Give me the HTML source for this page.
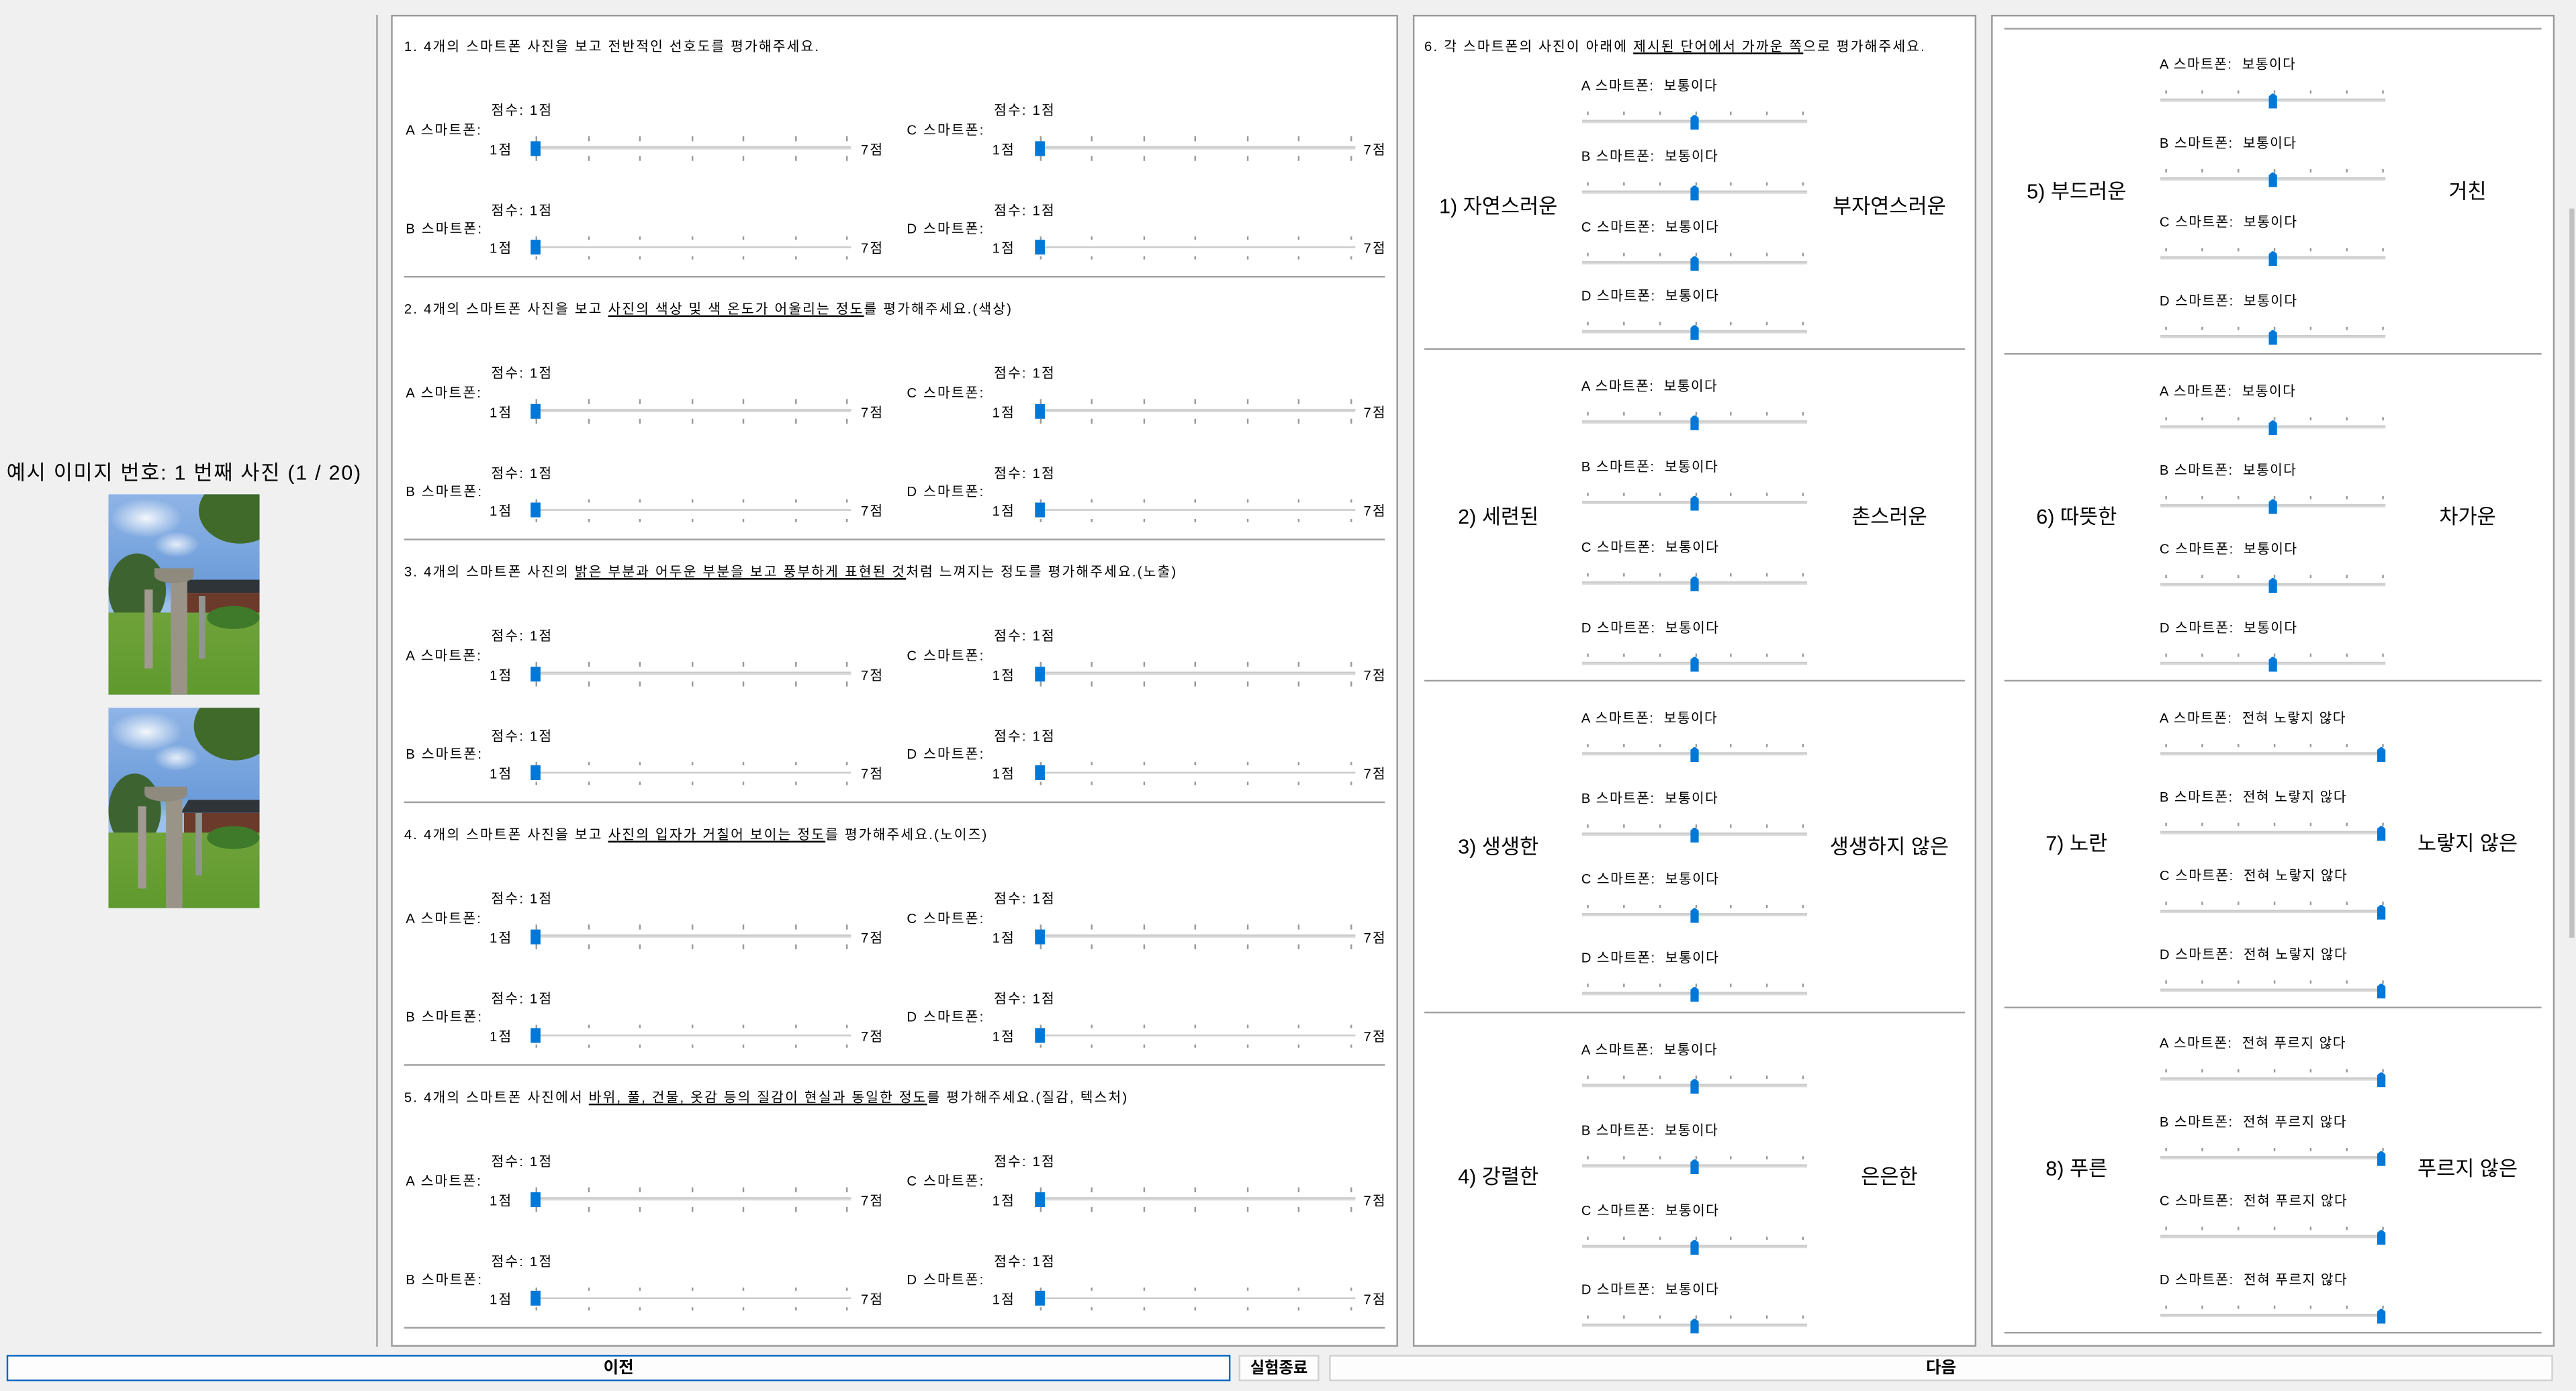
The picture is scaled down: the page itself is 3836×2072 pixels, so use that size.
<!DOCTYPE html>
<html><head><meta charset="utf-8">
<style>
html,body{margin:0;padding:0;width:3836px;height:2072px;overflow:hidden;background:#f0f0f0;}
#root{position:absolute;left:0;top:0;width:1568px;height:847px;transform:scale(2.44643,2.44628);transform-origin:0 0;font-family:"Liberation Sans","Noto Sans CJK KR",sans-serif;color:#000;}
.a{position:absolute;white-space:nowrap;}
.panel{position:absolute;background:#fff;border:0.5px solid #9a9a9a;box-sizing:border-box;}
.sm{font-size:8.3px;line-height:1;letter-spacing:0.9px;}
.hr{position:absolute;height:0.6px;background:#a0a0a0;}
.tick{position:absolute;width:0.6px;height:2.5px;background:#999;}
.track{position:absolute;height:1.6px;background:#dadada;border-top:0.3px solid #ccc;box-sizing:border-box;}
.thumb{position:absolute;background:#0078d7;}
.ptr{position:absolute;width:5.6px;height:9.5px;background:#0078d7;clip-path:polygon(50% 0,100% 25%,100% 100%,0 100%,0 25%);}
.big{font-size:12.5px;line-height:1;position:absolute;white-space:nowrap;transform:translate(-50%,-50%);}
.btn{position:absolute;top:825px;height:16px;background:#fdfdfd;border:0.6px solid #d0d0d0;box-sizing:border-box;font-size:10px;font-weight:bold;text-align:center;line-height:15px;}
u{text-decoration-thickness:0.5px;text-underline-offset:1px;}
.photo{position:absolute;left:66px;width:92px;height:122px;overflow:hidden;
background:
radial-gradient(ellipse 22px 12px at 25% 12%,rgba(255,255,255,.9),rgba(255,255,255,0)),
radial-gradient(ellipse 14px 8px at 45% 25%,rgba(255,255,255,.8),rgba(255,255,255,0)),
linear-gradient(#8fb4e6,#6c9cd9 45%,#9cc0e8 55%);}
</style></head>
<body>
<div id="root">
  <div class="a" style="left:4px;top:277px;font-size:12.5px;letter-spacing:0.7px;">예시 이미지 번호: 1 번째 사진 (1 / 20)</div>
  <div class="photo" style="top:301px">
    <div class="a" style="left:55px;top:-10px;width:50px;height:40px;border-radius:50%;background:#3f6a2a;"></div>
    <div class="a" style="left:0;top:36px;width:35px;height:45px;border-radius:50%;background:#3d6430;"></div>
    <div class="a" style="left:44px;top:52px;width:48px;height:8px;background:#2f3438;clip-path:polygon(10% 0,100% 0,100% 100%,0 100%);"></div>
    <div class="a" style="left:46px;top:60px;width:46px;height:16px;background:#6b3a2a;"></div>
    <div class="a" style="left:0;top:72px;width:92px;height:50px;background:linear-gradient(#6fa23a,#5f9a2e);"></div>
    <div class="a" style="left:60px;top:68px;width:32px;height:14px;border-radius:50%;background:#3e7a2a;"></div>
    <div class="a" style="left:38px;top:52px;width:10px;height:70px;background:#9a9488;"></div>
    <div class="a" style="left:28px;top:45px;width:24px;height:9px;border-radius:0 0 50% 50%;background:#8e8a7e;"></div>
    <div class="a" style="left:22px;top:58px;width:5px;height:48px;background:#a09a90;"></div>
    <div class="a" style="left:55px;top:62px;width:4px;height:38px;background:#8f9590;"></div>
  </div>
  <div class="photo" style="top:431px">
    <div class="a" style="left:52px;top:-10px;width:50px;height:42px;border-radius:50%;background:#3f6a2a;"></div>
    <div class="a" style="left:0;top:40px;width:32px;height:45px;border-radius:50%;background:#3d6430;"></div>
    <div class="a" style="left:44px;top:56px;width:48px;height:8px;background:#2f3438;clip-path:polygon(10% 0,100% 0,100% 100%,0 100%);"></div>
    <div class="a" style="left:46px;top:64px;width:46px;height:14px;background:#6b3a2a;"></div>
    <div class="a" style="left:0;top:76px;width:92px;height:46px;background:linear-gradient(#6fa23a,#5f9a2e);"></div>
    <div class="a" style="left:60px;top:72px;width:32px;height:14px;border-radius:50%;background:#3e7a2a;"></div>
    <div class="a" style="left:35px;top:56px;width:10px;height:66px;background:#9a9488;"></div>
    <div class="a" style="left:22px;top:48px;width:26px;height:9px;border-radius:0 0 50% 50%;background:#8e8a7e;"></div>
    <div class="a" style="left:18px;top:60px;width:5px;height:50px;background:#a09a90;"></div>
    <div class="a" style="left:53px;top:64px;width:4px;height:38px;background:#8f9590;"></div>
  </div>
  <div class="a" style="left:229px;top:9px;width:0.6px;height:811px;background:#a0a0a0;"></div>

  <div class="panel" id="p1" style="left:238px;top:9px;width:613px;height:811px;"></div>
  <div class="panel" id="p2" style="left:860px;top:9px;width:343px;height:811px;"></div>
  <div class="panel" id="p3" style="left:1212px;top:9px;width:343px;height:811px;"></div>
  <div class="a" style="left:1563.5px;top:127px;width:3.5px;height:444px;background:#c0c0c0;"></div>

  <div class="btn" style="left:4px;width:745px;border:0.6px solid #0067c0;">이전</div>
  <div class="btn" style="left:754px;width:49px;font-size:9.5px;">실험종료</div>
  <div class="btn" style="left:809px;width:745px;">다음</div>
</div>
<script>
// ---- data ----
const questionTexts = [
 '1. 4개의 스마트폰 사진을 보고 전반적인 선호도를 평가해주세요.',
 '2. 4개의 스마트폰 사진을 보고 <u>사진의 색상 및 색 온도가 어울리는 정도</u>를 평가해주세요.(색상)',
 '3. 4개의 스마트폰 사진의 <u>밝은 부분과 어두운 부분을 보고 풍부하게 표현된 것</u>처럼 느껴지는 정도를 평가해주세요.(노출)',
 '4. 4개의 스마트폰 사진을 보고 <u>사진의 입자가 거칠어 보이는 정도</u>를 평가해주세요.(노이즈)',
 '5. 4개의 스마트폰 사진에서 <u>바위, 풀, 건물, 옷감 등의 질감이 현실과 동일한 정도</u>를 평가해주세요.(질감, 텍스처)'
];
const phones = ['A','B','C','D'];
const q1Scores = [1,1,1,1];
const q2Scores = [1,1,1,1];
const q3Scores = [1,1,1,1];
const q4Scores = [1,1,1,1];
const q5Scores = [1,1,1,1];
const leftWords = ['1) 자연스러운','2) 세련된','3) 생생한','4) 강렬한','5) 부드러운','6) 따뜻한','7) 노란','8) 푸른'];
const rightWords = ['부자연스러운','촌스러운','생생하지 않은','은은한','거친','차가운','노랗지 않은','푸르지 않은'];
const maxLabels = ['전혀 자연스럽지 않다','전혀 세련되지 않다','전혀 생생하지 않다','전혀 강렬하지 않다','매우 거칠다','매우 차갑다','전혀 노랗지 않다','전혀 푸르지 않다'];
const semValues = [[4,4,4,4],[4,4,4,4],[4,4,4,4],[4,4,4,4],[4,4,4,4],[4,4,4,4],[7,7,7,7],[7,7,7,7]];
const qScores = [q1Scores,q2Scores,q3Scores,q4Scores,q5Scores];

const root = document.getElementById('root');
function mk(cls, style, html){
  const d=document.createElement('div');
  d.className=cls; d.style.cssText=style; if(html!==undefined) d.innerHTML=html;
  root.appendChild(d); return d;
}
function semLabel(g,v){ return v===4?'보통이다':(v===7?maxLabels[g]:(v<4?'약간 '+leftWords[g].slice(3):'약간 '+rightWords[g])); }

// ---- rating questions ----
const cols=[{lab:247,score:299,tick0:326,tick1:515,max:524},{lab:552,score:605,tick0:633,tick1:821.5,max:830}];
qScores.forEach((scores,qi)=>{
  const Y=9+160*qi;
  const t=mk('a sm','left:246px;top:'+(Y+15)+'px;',questionTexts[qi]);
  
  
  phones.forEach((p,pi)=>{
    const col=cols[pi>>1], row=pi&1, R=Y+row*60.5;
    const x=v=>col.tick0+(v-1)*(col.tick1-col.tick0)/6;
    const v=scores[pi];
    const sc=mk('a sm','left:'+col.score+'px;top:'+(R+54)+'px;','점수: '+v+'점');
    
    
    const lb=mk('a sm','left:'+col.lab+'px;top:'+(R+65.5)+'px;',p+' 스마트폰:');
    
    
    const mn=mk('a sm','left:'+(col.score-1)+'px;top:'+(R+77.5)+'px;','1점');
    
    
    const mx=mk('a sm','left:'+col.max+'px;top:'+(R+77.5)+'px;','7점');
    
    
    const tr=mk('track','left:'+(x(1)-3)+'px;width:'+(x(7)-x(1)+6)+'px;top:'+(R+80.2)+'px;');
    
    
    for(let k=1;k<=7;k++){
      const a=mk('tick','left:'+x(k)+'px;top:'+(R+74)+'px;');
       
      const b=mk('tick','left:'+x(k)+'px;top:'+(R+86)+'px;');
       
    }
    const th=mk('thumb','left:'+(x(v)-3)+'px;top:'+(R+76.5)+'px;width:6px;height:9px;');
    
    
  });
  const hr=mk('hr','left:246px;width:597px;top:'+(Y+158.5)+'px;');
  
  
});

// ---- semantic differential ----
const q6=mk('a sm','left:867px;top:24px;','6. 각 스마트폰의 사진이 아래에 <u>제시된 단어에서 가까운 쪽</u>으로 평가해주세요.');


const trackYs=[[74,117,160,202],[257,306,355,404],[459,508,557,605],[661,710,759,807],
               [61,109,157,205],[260,308,356,404],[459,507,555,603],[657,705,753,801]];
const bigYs=[126,315,516,717,117,315,514,712];
const sepYs=[212,414,616,null,215,414,613,811];
const panels=[{lab:962.5,t0:966,t1:1097,tr0:962.5,tr1:1100,lc:912,rc:1150,s0:867,s1:1196},
              {lab:1314.5,t0:1317.6,t1:1449.5,tr0:1314.5,tr1:1452,lc:1264,rc:1502,s0:1219.5,s1:1547}];
const top3=mk('hr','left:1219.5px;width:327.5px;top:16.5px;');


semValues.forEach((vals,g)=>{
  const P=panels[g<4?0:1];
  const x=v=>P.t0+(v-1)*(P.t1-P.t0)/6;
  const L=mk('big','left:'+P.lc+'px;top:'+bigYs[g]+'px;',leftWords[g]);
  
  
  const Rw=mk('big','left:'+P.rc+'px;top:'+bigYs[g]+'px;',rightWords[g]);
  
  
  vals.forEach((v,pi)=>{
    const ty=trackYs[g][pi];
    const lb=mk('a sm','left:'+P.lab+'px;top:'+(ty-26.5)+'px;letter-spacing:0.6px;',phones[pi]+' 스마트폰:&nbsp; '+semLabel(g,v));
    
    
    for(let k=1;k<=7;k++){
      const t=mk('tick','left:'+x(k)+'px;top:'+(ty-6.5)+'px;');
       
    }
    const tr=mk('track','left:'+P.tr0+'px;width:'+(P.tr1-P.tr0)+'px;top:'+(ty-0.8)+'px;');
    
    
    const th=mk('ptr','left:'+(x(v)-2.8)+'px;top:'+(ty-4.5)+'px;');
    
    
  });
  if(sepYs[g]!==null){
    const s=mk('hr','left:'+P.s0+'px;width:'+(P.s1-P.s0)+'px;top:'+sepYs[g]+'px;');
    
    
  }
});
</script>
</body></html>
